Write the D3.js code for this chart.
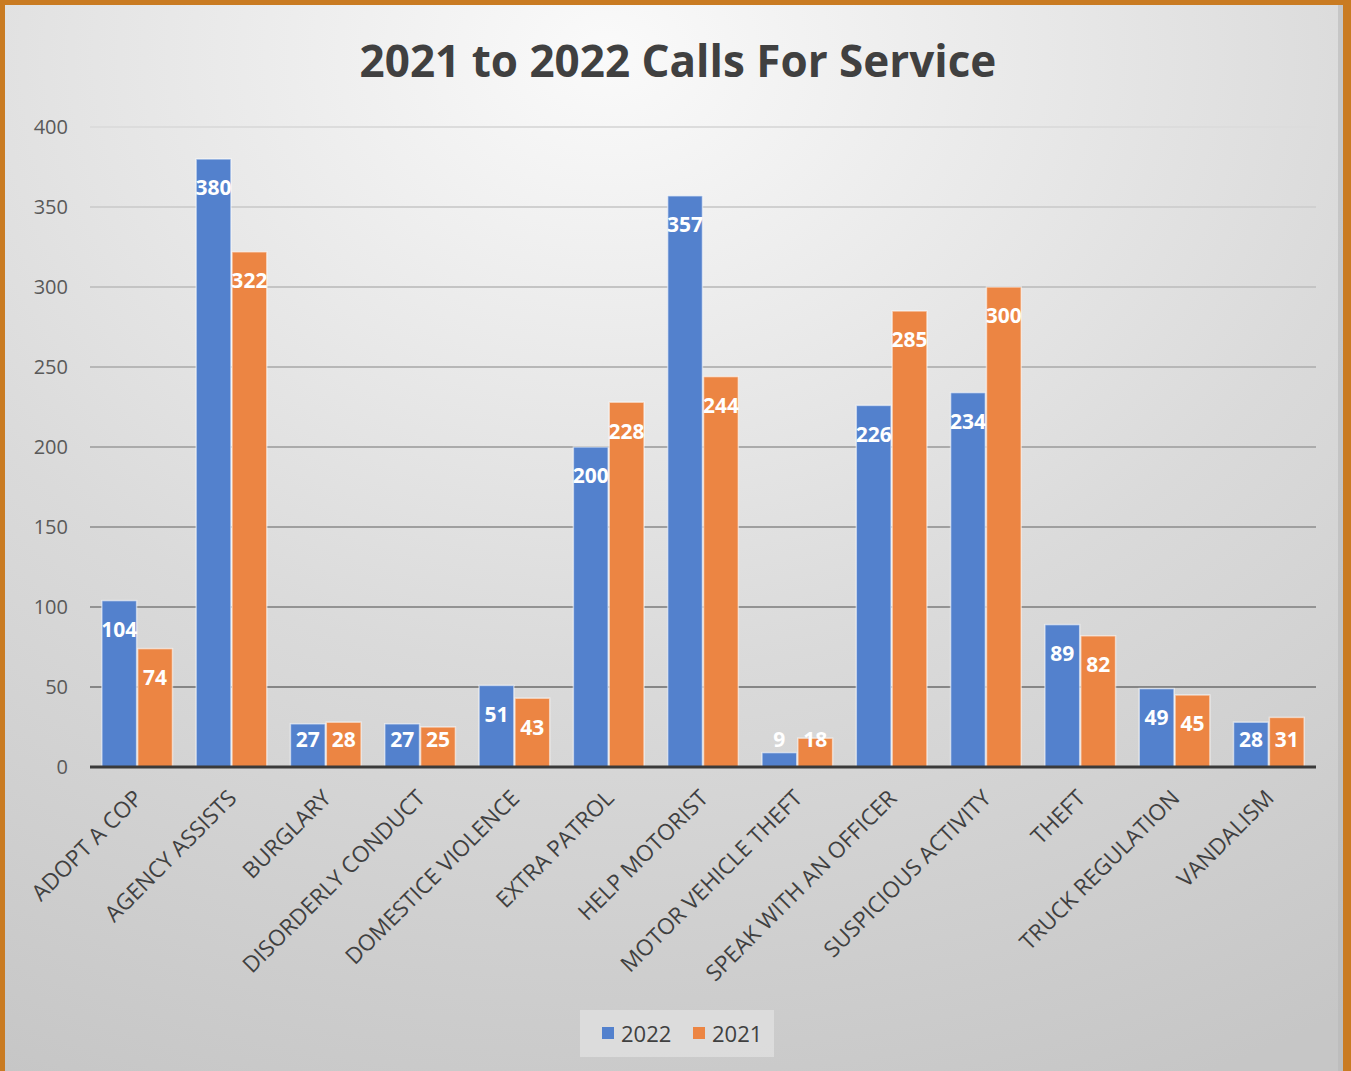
<!DOCTYPE html>
<html>
<head>
<meta charset="utf-8">
<script src="https://cdn.jsdelivr.net/npm/d3@7"></script>
<style>
  body { margin: 0; background: #fff; }
  text { font-family: "Open Sans", "Noto Sans", sans-serif; }
</style>
</head>
<body>
<div id="chart"></div>
<script>
// chart values
var categories = ['ADOPT A COP', 'AGENCY ASSISTS', 'BURGLARY', 'DISORDERLY CONDUCT',
  'DOMESTICE VIOLENCE', 'EXTRA PATROL', 'HELP MOTORIST', 'MOTOR VEHICLE THEFT',
  'SPEAK WITH AN OFFICER', 'SUSPICIOUS ACTIVITY', 'THEFT', 'TRUCK REGULATION', 'VANDALISM'];
var seriesNames = ['2022', '2021'];
var values2022 = [104, 380, 27, 27, 51, 200, 357, 9, 226, 234, 89, 49, 28];
var values2021 = [74, 322, 28, 25, 43, 228, 244, 18, 285, 300, 82, 45, 31];
var yTicks = [0, 50, 100, 150, 200, 250, 300, 350, 400];

var width = 1351, height = 1071;
var plotLeft = 90, plotRight = 1316, plotTop = 127, plotBottom = 767;
var colors = { '2022': '#5381cd', '2021': '#ec8543' };

var svg = d3.select('#chart').append('svg')
  .attr('width', width)
  .attr('height', height);

// background gradient, light at the top, grey towards the edges
var defs = svg.append('defs');
var grad = defs.append('radialGradient')
  .attr('id', 'bg')
  .attr('cx', '0.45').attr('cy', '0.05').attr('r', '1.05');
grad.append('stop').attr('offset', '0').attr('stop-color', '#fafafa');
grad.append('stop').attr('offset', '0.55').attr('stop-color', '#dadada');
grad.append('stop').attr('offset', '1').attr('stop-color', '#c6c6c6');

svg.append('rect')
  .attr('width', width).attr('height', height)
  .attr('fill', 'url(#bg)');

// orange frame
svg.append('rect').attr('x', 0).attr('y', 0).attr('width', width).attr('height', 5).attr('fill', '#c97b22');
svg.append('rect').attr('x', 0).attr('y', 0).attr('width', 5).attr('height', height).attr('fill', '#c97b22');
svg.append('rect').attr('x', 1343).attr('y', 0).attr('width', 8).attr('height', height).attr('fill', '#c97b22');
svg.append('rect').attr('x', 1338).attr('y', 5).attr('width', 5).attr('height', height).attr('fill', '#b8b8b8').attr('opacity', 0.6);

var x0 = d3.scaleBand()
  .domain(categories)
  .range([plotLeft, plotRight]);

var x1 = d3.scaleBand()
  .domain(seriesNames)
  .range([0, x0.bandwidth()])
  .paddingInner(0.03)
  .paddingOuter(0.33);

var y = d3.scaleLinear()
  .domain([0, 400])
  .range([plotBottom, plotTop]);

var gridColor = d3.scaleLinear()
  .domain([plotTop, plotBottom])
  .range(['#dcdcdc', '#7a7a7a']);

// gridlines
svg.append('g').selectAll('line')
  .data(yTicks.filter(function(d) { return d > 0; }))
  .enter().append('line')
  .attr('x1', plotLeft).attr('x2', plotRight)
  .attr('y1', function(d) { return y(d); })
  .attr('y2', function(d) { return y(d); })
  .attr('stroke', function(d) { return gridColor(y(d)); })
  .attr('stroke-width', 2);

// y axis labels
var yAxis = svg.append('g')
  .attr('transform', 'translate(' + (plotLeft - 22) + ',0)')
  .call(d3.axisLeft(y).tickValues(yTicks).tickSize(0).tickPadding(0));
yAxis.select('.domain').remove();
yAxis.selectAll('text')
  .attr('font-size', 20)
  .attr('fill', '#595959')
  .style('font-family', '"Open Sans", sans-serif');

// bars
var rows = categories.map(function(c, i) {
  return { cat: c, vals: [{ s: '2022', v: values2022[i] }, { s: '2021', v: values2021[i] }] };
});

var groups = svg.append('g').selectAll('g')
  .data(rows)
  .enter().append('g')
  .attr('transform', function(d) { return 'translate(' + x0(d.cat) + ',0)'; });

groups.selectAll('rect')
  .data(function(d) { return d.vals; })
  .enter().append('rect')
  .attr('x', function(d) { return x1(d.s); })
  .attr('y', function(d) { return y(d.v); })
  .attr('width', x1.bandwidth())
  .attr('height', function(d) { return y(0) - y(d.v); })
  .attr('fill', function(d) { return colors[d.s]; })
  .attr('stroke', 'rgba(255,255,255,0.55)')
  .attr('stroke-width', 1.5);

// data labels, inside end (kept above the axis for short bars)
groups.selectAll('text')
  .data(function(d) { return d.vals; })
  .enter().append('text')
  .attr('x', function(d) { return x1(d.s) + x1.bandwidth() / 2; })
  .attr('y', function(d) { return Math.min(y(d.v) + 29, 740); })
  .attr('dy', '0.35em')
  .attr('text-anchor', 'middle')
  .attr('font-size', 21)
  .attr('font-weight', 'bold')
  .attr('fill', '#ffffff')
  .text(function(d) { return d.v; });

// baseline
svg.append('line')
  .attr('x1', plotLeft).attr('x2', plotRight)
  .attr('y1', y(0)).attr('y2', y(0))
  .attr('stroke', '#3a3a3a')
  .attr('stroke-width', 3);

// category labels rotated 45 degrees
var xAxis = svg.append('g')
  .attr('transform', 'translate(0,' + (plotBottom + 20) + ')')
  .call(d3.axisBottom(x0).tickSize(0).tickPadding(0));
xAxis.select('.domain').remove();
xAxis.selectAll('text')
  .attr('font-size', 22.5)
  .attr('fill', '#404040')
  .attr('text-anchor', 'end')
  .attr('dy', '0.6em')
  .attr('transform', 'translate(-3,3) rotate(-45)')
  .style('font-family', '"Open Sans", sans-serif');

// title
svg.append('text')
  .attr('x', 678)
  .attr('y', 77)
  .attr('text-anchor', 'middle')
  .attr('font-size', 44)
  .attr('font-weight', 'bold')
  .attr('fill', '#404040')
  .text('2021 to 2022 Calls For Service');

// legend
var legend = svg.append('g');
legend.append('rect')
  .attr('x', 580).attr('y', 1010)
  .attr('width', 194).attr('height', 47)
  .attr('fill', '#e2e2e2').attr('opacity', 0.7);

var legendX = { '2022': 602, '2021': 693 };
seriesNames.forEach(function(s) {
  legend.append('rect')
    .attr('x', legendX[s]).attr('y', 1027)
    .attr('width', 12).attr('height', 12)
    .attr('fill', colors[s]);
  legend.append('text')
    .attr('x', legendX[s] + 19).attr('y', 1042)
    .attr('font-size', 22)
    .attr('fill', '#404040')
    .text(s);
});
</script>
</body>
</html>
